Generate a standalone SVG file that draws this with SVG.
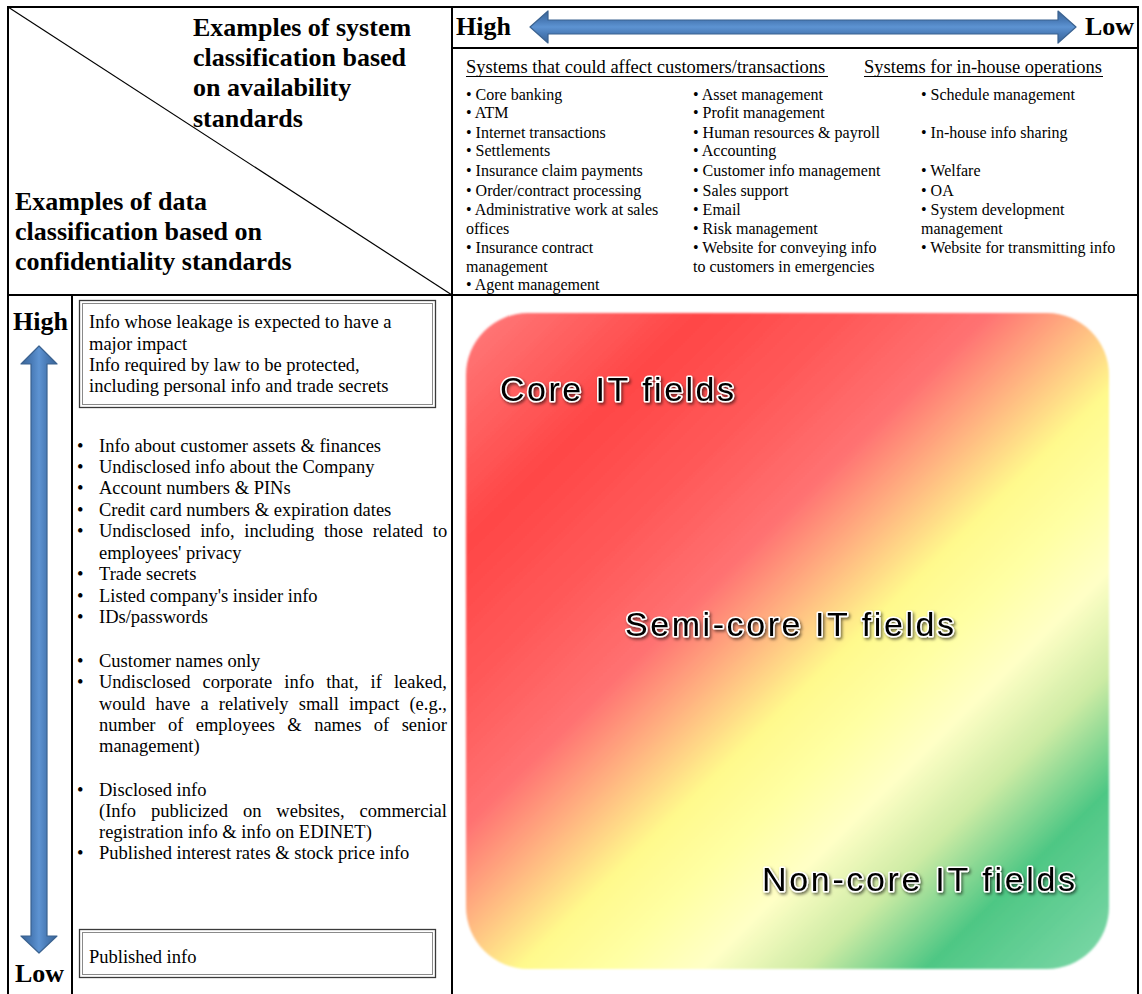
<svg xmlns="http://www.w3.org/2000/svg" width="1142" height="994" viewBox="0 0 1142 994">
  <style>
    .rule { stroke: #000; stroke-width: 2; fill: none; }
    .head { font-family: "Liberation Serif", "Times New Roman", serif; font-weight: bold; font-size: 26px; fill: #000; }
    .sub { font-family: "Liberation Serif", "Times New Roman", serif; font-size: 18.5px; fill: #000; }
    .item { font-family: "Liberation Serif", "Times New Roman", serif; font-size: 16px; fill: #000; }
    .body { font-family: "Liberation Serif", "Times New Roman", serif; font-size: 18.5px; fill: #000; }
    .field { font-family: "Liberation Sans", Arial, sans-serif; font-size: 34px; fill: #000; stroke: #fff; stroke-width: 3.2; stroke-linejoin: round; paint-order: stroke fill; filter: url(#shadow); }
    .box-out { fill: #fff; stroke: #3a3a3a; stroke-width: 1.3; }
    .box-in { fill: none; stroke: #8a8a8a; stroke-width: 1; }
    .arrow { stroke: #3a6290; stroke-width: 1.2; stroke-linejoin: round; }
  </style>
  <defs>
    <linearGradient id="arrowH" x1="0" y1="0" x2="0" y2="1">
      <stop offset="0" stop-color="#3b6597"/>
      <stop offset="0.3" stop-color="#4a7cb8"/>
      <stop offset="0.5" stop-color="#5d93d2"/>
      <stop offset="0.7" stop-color="#4a7cb8"/>
      <stop offset="1" stop-color="#3b6597"/>
    </linearGradient>
    <linearGradient id="arrowV" x1="0" y1="0" x2="1" y2="0">
      <stop offset="0" stop-color="#3b6597"/>
      <stop offset="0.3" stop-color="#4a7cb8"/>
      <stop offset="0.5" stop-color="#5d93d2"/>
      <stop offset="0.7" stop-color="#4a7cb8"/>
      <stop offset="1" stop-color="#3b6597"/>
    </linearGradient>
    <linearGradient id="heat" gradientUnits="userSpaceOnUse" x1="466" y1="312" x2="1109" y2="969">
      <stop offset="0" stop-color="#ff7d7d"/>
      <stop offset="0.18" stop-color="#ff4646"/>
      <stop offset="0.30" stop-color="#ff5a5a"/>
      <stop offset="0.40" stop-color="#ff7272"/>
      <stop offset="0.47" stop-color="#ffb080"/>
      <stop offset="0.55" stop-color="#fff98c"/>
      <stop offset="0.62" stop-color="#ffffa4"/>
      <stop offset="0.69" stop-color="#ffffc6"/>
      <stop offset="0.77" stop-color="#cdeba4"/>
      <stop offset="0.86" stop-color="#4ec784"/>
      <stop offset="1" stop-color="#7fd8aa"/>
    </linearGradient>
    <filter id="soft" x="-5%" y="-5%" width="110%" height="110%">
      <feGaussianBlur stdDeviation="1.2"/>
    </filter>
    <filter id="shadow" x="-10%" y="-30%" width="120%" height="160%">
      <feDropShadow dx="1.5" dy="2" stdDeviation="1.5" flood-color="#000" flood-opacity="0.55"/>
    </filter>
  </defs>

  <rect width="1142" height="994" fill="#fff"/>

  <!-- table frame -->
  <g id="frame">
    <line class="rule" x1="7" y1="7" x2="1139" y2="7"/>
    <line class="rule" x1="8" y1="6" x2="8" y2="994"/>
    <line class="rule" x1="1138" y1="6" x2="1138" y2="994"/>
    <line class="rule" x1="452" y1="6" x2="452" y2="994"/>
    <line class="rule" x1="452" y1="48" x2="1138" y2="48"/>
    <line class="rule" x1="7" y1="295" x2="1139" y2="295"/>
    <line class="rule" x1="72" y1="295" x2="72" y2="994"/>
    <line x1="8" y1="7" x2="452" y2="295" stroke="#000" stroke-width="1.2"/>
  </g>

  <!-- corner headings -->
  <g id="header-system">
    <text class="head" x="193" y="36">Examples of system</text>
    <text class="head" x="193" y="66">classification based</text>
    <text class="head" x="193" y="96">on availability</text>
    <text class="head" x="193" y="127">standards</text>
  </g>
  <g id="header-data">
    <text class="head" x="15" y="210">Examples of data</text>
    <text class="head" x="15" y="240">classification based on</text>
    <text class="head" x="15" y="270">confidentiality standards</text>
  </g>

  <!-- availability scale -->
  <g id="avail-scale">
    <text class="head" x="456" y="35">High</text>
    <text class="head" x="1134" y="35" text-anchor="end">Low</text>
    <path class="arrow" fill="url(#arrowH)" d="M530,27 L548,11 L548,20 L1058,20 L1058,11 L1076,27 L1058,43 L1058,34 L548,34 L548,43 Z"/>
  </g>

  <!-- system classification list -->
  <g id="system-list">
    <text class="sub" x="466" y="73">Systems that could affect customers/transactions</text>
    <line x1="466" y1="76.5" x2="828" y2="76.5" stroke="#000" stroke-width="1"/>
    <text class="sub" x="864" y="73">Systems for in-house operations</text>
    <line x1="864" y1="76.5" x2="1103" y2="76.5" stroke="#000" stroke-width="1"/>

    <text class="item" x="466" y="100">• Core banking</text>
    <text class="item" x="466" y="118">• ATM</text>
    <text class="item" x="466" y="138">• Internet transactions</text>
    <text class="item" x="466" y="156">• Settlements</text>
    <text class="item" x="466" y="176">• Insurance claim payments</text>
    <text class="item" x="466" y="196">• Order/contract processing</text>
    <text class="item" x="466" y="215">• Administrative work at sales</text>
    <text class="item" x="466" y="234">offices</text>
    <text class="item" x="466" y="253">• Insurance contract</text>
    <text class="item" x="466" y="272">management</text>
    <text class="item" x="466" y="290">• Agent management</text>

    <text class="item" x="693" y="100">• Asset management</text>
    <text class="item" x="693" y="118">• Profit management</text>
    <text class="item" x="693" y="138">• Human resources &amp; payroll</text>
    <text class="item" x="693" y="156">• Accounting</text>
    <text class="item" x="693" y="176">• Customer info management</text>
    <text class="item" x="693" y="196">• Sales support</text>
    <text class="item" x="693" y="215">• Email</text>
    <text class="item" x="693" y="234">• Risk management</text>
    <text class="item" x="693" y="253">• Website for conveying info</text>
    <text class="item" x="693" y="272">to customers in emergencies</text>

    <text class="item" x="921" y="100">• Schedule management</text>
    <text class="item" x="921" y="138">• In-house info sharing</text>
    <text class="item" x="921" y="176">• Welfare</text>
    <text class="item" x="921" y="196">• OA</text>
    <text class="item" x="921" y="215">• System development</text>
    <text class="item" x="921" y="234">management</text>
    <text class="item" x="921" y="253">• Website for transmitting info</text>
  </g>

  <!-- confidentiality scale -->
  <g id="conf-scale">
    <text class="head" x="13" y="330">High</text>
    <text class="head" x="15" y="982">Low</text>
    <path class="arrow" fill="url(#arrowV)" d="M39,346 L57,364 L47,364 L47,936 L57,936 L39,953 L21,936 L31,936 L31,364 L21,364 Z"/>
  </g>

  <!-- highest-confidentiality box -->
  <g id="data-box-high">
    <rect class="box-out" x="79.5" y="300.5" width="356" height="107"/>
    <rect class="box-in" x="82.5" y="303.5" width="350" height="101"/>
    <text class="body" x="89" y="328">Info whose leakage is expected to have a</text>
    <text class="body" x="89" y="350">major impact</text>
    <text class="body" x="89" y="371">Info required by law to be protected,</text>
    <text class="body" x="89" y="392">including personal info and trade secrets</text>
  </g>

  <!-- data examples -->
  <g id="data-list">
    <text class="body" x="77" y="452">•</text>
    <text class="body" x="99" y="452">Info about customer assets &amp; finances</text>
    <text class="body" x="77" y="473">•</text>
    <text class="body" x="99" y="473">Undisclosed info about the Company</text>
    <text class="body" x="77" y="494">•</text>
    <text class="body" x="99" y="494">Account numbers &amp; PINs</text>
    <text class="body" x="77" y="516">•</text>
    <text class="body" x="99" y="516">Credit card numbers &amp; expiration dates</text>
    <text class="body" x="77" y="537">•</text>
    <text class="body" x="99" y="537" word-spacing="5.1">Undisclosed info, including those related to</text>
    <text class="body" x="99" y="559">employees' privacy</text>
    <text class="body" x="77" y="580">•</text>
    <text class="body" x="99" y="580">Trade secrets</text>
    <text class="body" x="77" y="602">•</text>
    <text class="body" x="99" y="602">Listed company's insider info</text>
    <text class="body" x="77" y="623">•</text>
    <text class="body" x="99" y="623">IDs/passwords</text>

    <text class="body" x="77" y="667">•</text>
    <text class="body" x="99" y="667">Customer names only</text>
    <text class="body" x="77" y="688">•</text>
    <text class="body" x="99" y="688" word-spacing="7.4">Undisclosed corporate info that, if leaked,</text>
    <text class="body" x="99" y="710" word-spacing="5.5">would have a relatively small impact (e.g.,</text>
    <text class="body" x="99" y="731" word-spacing="7.8">number of employees &amp; names of senior</text>
    <text class="body" x="99" y="752">management)</text>

    <text class="body" x="77" y="796">•</text>
    <text class="body" x="99" y="796">Disclosed info</text>
    <text class="body" x="99" y="817" word-spacing="10.3">(Info publicized on websites, commercial</text>
    <text class="body" x="99" y="838">registration info &amp; info on EDINET)</text>
    <text class="body" x="77" y="859">•</text>
    <text class="body" x="99" y="859">Published interest rates &amp; stock price info</text>
  </g>

  <!-- lowest-confidentiality box -->
  <g id="data-box-low">
    <rect class="box-out" x="79.5" y="929.5" width="356" height="48"/>
    <rect class="box-in" x="82.5" y="932.5" width="350" height="42"/>
    <text class="body" x="89" y="963">Published info</text>
  </g>

  <!-- IT field map -->
  <g id="it-fields">
    <rect x="466" y="313" width="643" height="656" rx="62" ry="62" fill="url(#heat)" filter="url(#soft)"/>
    <text class="field" x="500" y="401" textLength="234" lengthAdjust="spacing">Core IT fields</text>
    <text class="field" x="625" y="636" textLength="329" lengthAdjust="spacing">Semi-core IT fields</text>
    <text class="field" x="762" y="891" textLength="313" lengthAdjust="spacing">Non-core IT fields</text>
  </g>
</svg>
